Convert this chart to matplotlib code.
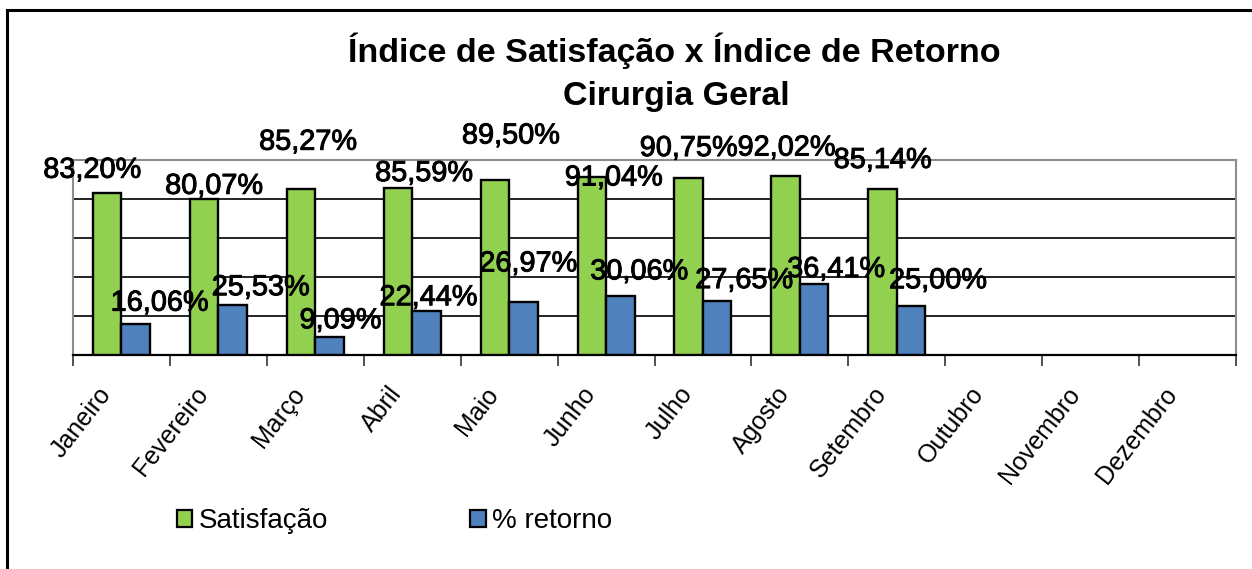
import numpy as np
import matplotlib
matplotlib.use("Agg")
import matplotlib.pyplot as plt
from matplotlib import font_manager
from matplotlib.lines import Line2D
import matplotlib.transforms as mtransforms
import matplotlib.patheffects as pe

# ---------------- data ----------------
months = ["Janeiro", "Fevereiro", "Março", "Abril", "Maio", "Junho", "Julho",
          "Agosto", "Setembro", "Outubro", "Novembro", "Dezembro"]
satisfacao = [83.20, 80.07, 85.27, 85.59, 89.50, 91.04, 90.75, 92.02, 85.14]
retorno = [16.06, 25.53, 9.09, 22.44, 26.97, 30.06, 27.65, 36.41, 25.00]
series_names = ["Satisfação", "% retorno"]
title_lines = ["Índice de Satisfação x Índice de Retorno", "Cirurgia Geral"]

# label offsets (pixels) relative to bar top-centre
sat_lbl_off = [(-15, 23), (10, 13), (7, 47), (26, 15), (16, 45), (22, 0), (0, 30), (1, 28), (0, 29)]
ret_lbl_off = [(24, 21), (28, 18), (11, 17), (2, 14), (5, 39), (19, 25), (27, 21), (22, 15), (27, 26)]

# ---------------- fonts ----------------
names = {f.name for f in font_manager.fontManager.ttflist}
narrow = "Liberation Sans Narrow" in names
base = "Liberation Sans"
if narrow:
    lbl_font, lbl_size = "Liberation Sans Narrow", 25
    ttl_font, ttl_size = "Liberation Sans Narrow", 30
else:
    lbl_font, lbl_size = base, 20.8
    ttl_font, ttl_size = base, 24.5

W, H = 1252, 569
fig = plt.figure(figsize=(W / 100, H / 100), dpi=100)
fig.patch.set_facecolor("white")

ax = fig.add_axes([73 / W, 1 - 355 / H, (1236 - 73) / W, (355 - 160) / H])
green = "#92D050"
blue = "#4F81BD"
bw = 0.294
x = np.arange(len(months))
n = len(satisfacao)
b1 = ax.bar(x[:n] - bw / 2, satisfacao, bw, color=green, edgecolor="black", linewidth=1.7, zorder=3)
b2 = ax.bar(x[:n] + bw / 2, retorno, bw, color=blue, edgecolor="black", linewidth=1.7, zorder=3)

ax.set_xlim(-0.5, len(months) - 0.5)
ax.set_ylim(0, 100)
ax.set_yticks([20, 40, 60, 80])
ax.yaxis.grid(True, color="#111111", linewidth=1.3, zorder=0)
ax.tick_params(axis="y", length=0, labelleft=False)
for s in ["left", "right", "top"]:
    ax.spines[s].set_color("#8c8c8c")
    ax.spines[s].set_linewidth(1.5)
ax.spines["bottom"].set_color("black")
ax.spines["bottom"].set_linewidth(1.6)

ax.set_xticks(x)
ax.set_xticks(np.arange(-0.5, len(months), 1), minor=True)
ax.tick_params(axis="x", which="major", length=0, pad=25)
ax.tick_params(axis="x", which="minor", length=8, width=1.2, color="#333333", direction="out")
ax.set_xticklabels(months, rotation=52, ha="right", va="center", rotation_mode="anchor",
                   fontsize=18, family=base)
off = mtransforms.ScaledTranslation(-15 / 100, 0, fig.dpi_scale_trans)
for lab in ax.get_xticklabels():
    lab.set_transform(lab.get_transform() + off)

thick = [pe.withStroke(linewidth=0.7, foreground="black")]
for i, (v, o) in enumerate(zip(satisfacao, sat_lbl_off)):
    ax.annotate(f"{v:.2f}%".replace(".", ","), (x[i] - bw / 2, v), xytext=o,
                textcoords="offset pixels", ha="center", va="center",
                fontsize=lbl_size, family=lbl_font, zorder=5, path_effects=thick)
for i, (v, o) in enumerate(zip(retorno, ret_lbl_off)):
    ax.annotate(f"{v:.2f}%".replace(".", ","), (x[i] + bw / 2, v), xytext=o,
                textcoords="offset pixels", ha="center", va="center",
                fontsize=lbl_size, family=lbl_font, zorder=5, path_effects=thick)

# title
fig.text(674 / W, 1 - 51 / H, title_lines[0], ha="center", va="center",
         fontsize=ttl_size, fontweight="bold", family=ttl_font)
fig.text(676 / W, 1 - 97 / H, title_lines[1], ha="center", va="center",
         fontsize=ttl_size, fontweight="bold", family=ttl_font)

# legend
leg = fig.legend([b1, b2], series_names, loc="center left",
                 bbox_to_anchor=(177 / W, 1 - 521 / H), ncol=2, frameon=False,
                 prop={"family": base, "size": 20},
                 handlelength=0.55, handleheight=0.55, handletextpad=0.25,
                 columnspacing=5.1, borderpad=0, borderaxespad=0)
for h in leg.legend_handles:
    h.set_linewidth(1.6)

# outer border (top and left)
fig.add_artist(Line2D([7 / W, 1], [1 - 9.5 / H, 1 - 9.5 / H], color="black", linewidth=2.2,
                      transform=fig.transFigure))
fig.add_artist(Line2D([7 / W, 7 / W], [1 - 9.5 / H, 0], color="black", linewidth=2.2,
                      transform=fig.transFigure))

fig.savefig("out.png", dpi=100)
